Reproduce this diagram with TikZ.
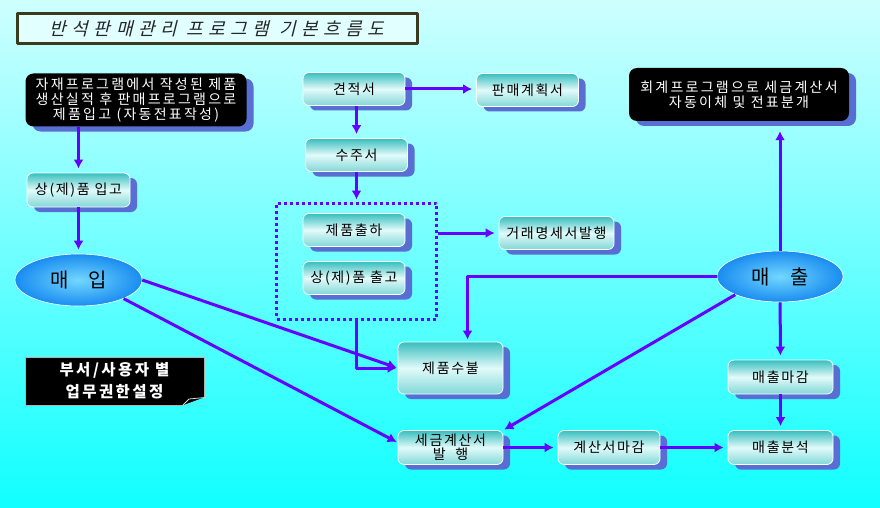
\documentclass[tikz,border=0pt]{standalone}
\usepackage{fontspec}
\setmainfont{Noto Sans CJK KR}[LetterSpace=12]
\newfontfamily\titlefont{Noto Sans CJK KR}[FakeSlant=0.25,LetterSpace=31]
\newfontfamily\notefont{Noto Sans CJK KR}[LetterSpace=16]
\usetikzlibrary{shapes.geometric,shadows,arrows.meta}

\definecolor{flowarrow}{RGB}{102,0,255}
\definecolor{boxteal}{RGB}{56,190,190}
\definecolor{boxlight}{RGB}{226,250,250}
\definecolor{boxbottom}{RGB}{130,215,215}
\definecolor{boxshadow}{RGB}{88,110,210}
\definecolor{bgtop}{RGB}{206,255,255}
\definecolor{bgbottom}{RGB}{16,255,255}
\definecolor{titleframe}{RGB}{58,58,30}
\definecolor{ovalin}{RGB}{115,215,255}
\definecolor{ovalout}{RGB}{25,140,240}

\begin{document}
\begin{tikzpicture}[x=1pt, y=-1pt, line join=bevel,
>={Latex[length=9pt,width=10pt]},
flowbox/.style={rectangle, rounded corners=6pt, draw=white, line width=0.8pt,
  top color=boxteal, bottom color=boxbottom, middle color=boxlight,
  drop shadow={shadow xshift=7pt, shadow yshift=-5pt, fill=boxshadow, opacity=1},
  minimum width=102pt, minimum height=33pt, inner sep=0pt, align=center,
  font=\fontsize{14}{14}\selectfont},
notebox/.style={rectangle, rounded corners=8pt, fill=black, text=white,
  drop shadow={shadow xshift=7pt, shadow yshift=-5pt, fill=boxshadow, opacity=1},
  minimum width=221pt, minimum height=53pt, inner sep=0pt, align=center,
  font=\notefont\fontsize{14}{15}\selectfont},
oval/.style={ellipse, draw=white, line width=0.6pt, inner color=ovalin, outer color=ovalout,
  minimum width=127pt, minimum height=52pt, inner sep=0pt,
  font=\fontsize{20}{22}\selectfont},
flow/.style={->, draw=flowarrow, line width=3pt, shorten >=4pt},
]
\shade[top color=bgtop, bottom color=bgbottom] (0,0) rectangle (880,508);
\useasboundingbox (0,0) rectangle (880,508);

% title
\node(title) at (217,29) [rectangle, draw=titleframe, line width=3pt, fill=bgtop!60!white,
  minimum width=400pt, minimum height=30pt, text=black!85,
  font=\titlefont\fontsize{18}{20}\selectfont] {반석판매관리 프로그램 기본흐름도};

% left column
\node(ja) at (136,100) [notebox] {자재프로그램에서 작성된 제품\\생산실적 후 판매프로그램으로\\제품입고 (자동전표작성)};
\node(ipgo) at (78.5,190) [flowbox, minimum width=103pt, minimum height=34pt] {상(제)품 입고};
\node(maeip) at (78.5,280) [oval] {매\quad 입};
\node(buseo) at (114.5,381) [rectangle, fill=black, draw=white!70!black, line width=0.6pt,
  text=white, minimum width=179pt, minimum height=48pt, align=center,
  font=\notefont\bfseries\fontsize{15.5}{22}\selectfont] {부서/사용자 별\\업무권한설정};
\fill[bgbottom!80!bgtop] (182,405.6) -- (205.6,405.6) -- (205.6,397) -- cycle;
\draw[white!85!black, line width=0.8pt] (183,405) -- (189,399) -- (205,397.5);

% middle column
\node(gyeon) at (354,89) [flowbox] {견적서};
\node(panmae) at (527.5,90) [flowbox] {판매계획서};
\node(suju) at (356.5,155) [flowbox] {수주서};
\node(grp) at (356.5,261) [rectangle, draw=flowarrow, line width=3pt,
  dash pattern=on 3pt off 3pt, minimum width=160pt, minimum height=116pt] {};
\node(chulha) at (354,230) [flowbox] {제품출하};
\node(chulgo) at (354,278) [flowbox] {상(제)품 출고};
\node(georae) at (556.5,233) [flowbox, minimum width=115pt] {거래명세서발행};
\node(subul) at (450.5,368) [flowbox, minimum width=105pt, minimum height=52pt] {제품수불};
\node(segeum) at (450.5,447.5) [flowbox, minimum width=105pt, minimum height=34pt] {세금계산서\\발~~행};
\node(gyemagam) at (609,447.5) [flowbox, minimum height=34pt] {계산서마감};

% right column
\node(hoegye) at (739,94.5) [notebox, minimum width=220pt] {회계프로그램으로 세금계산서\\자동이체 및 전표분개};
\node(maechul) at (780,276.5) [oval, minimum width=126pt, minimum height=51pt] {매\quad 출};
\node(maemagam) at (780.5,377) [flowbox, minimum width=105pt, minimum height=34pt] {매출마감};
\node(bunseok) at (780.5,447.5) [flowbox, minimum width=105pt, minimum height=34pt] {매출분석};

\draw[flow] (ipgo |- ja.south) -- (ipgo.north);
\draw[flow] (ipgo) -- (maeip);
\draw[flow] (gyeon.east) -- (gyeon.east -| panmae.west);
\draw[flow] (suju |- gyeon.south) -- (suju.north);
\draw[flow, shorten >=2pt] (suju) -- (grp.north);
\draw[flow] (grp.east |- georae) -- (georae.west);
\draw[flow, shorten >=1pt] (grp.south) |- (subul.west);
\draw[flow, shorten >=1pt] (maeip.east) -- (subul.west);
\draw[flow, shorten >=1pt] (maeip.south east) -- ([yshift=5pt]segeum.west);
\draw[flow, shorten >=2pt] (maechul.west) -| ([xshift=17pt]subul.north);
\draw[flow, shorten >=1pt] (maechul.south west) -- (segeum.north east);
\draw[flow, shorten >=10pt] (maechul) -- (maechul |- hoegye.south);
\draw[flow] (maechul) -- (maemagam);
\draw[flow] (maemagam) -- (bunseok);
\draw[flow] (segeum) -- (gyemagam);
\draw[flow] (gyemagam) -- (bunseok);
\end{tikzpicture}
\end{document}
